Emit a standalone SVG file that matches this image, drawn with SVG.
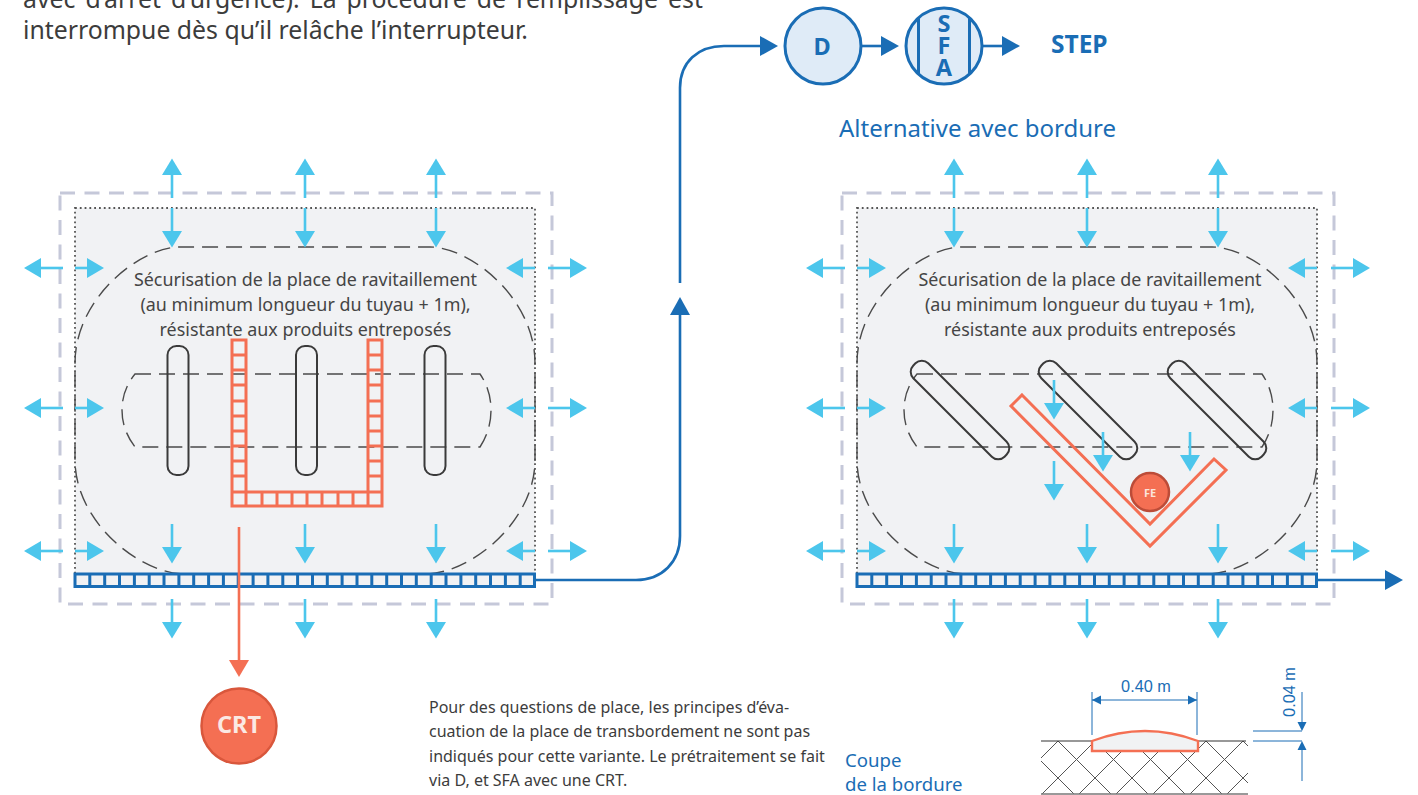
<svg xmlns="http://www.w3.org/2000/svg" xmlns:xlink="http://www.w3.org/1999/xlink" width="1418" height="795" viewBox="0 0 1418 795">
<style>
text{font-family:"Noto Sans","Open Sans",sans-serif}
.body{font-size:24.800px;fill:#3c3c3c}
.lab{font-size:17.900px;fill:#454545;text-anchor:middle}
.note{font-size:16px;fill:#3c3c3c}
.blue{fill:#1a6db5}
.title{font-size:24px}
.coupe{font-size:18.600px}
.dim{font-family:"Liberation Sans",Arial,sans-serif;font-size:16.300px;fill:#1a6db5}
.outer{fill:none;stroke:#c5c8d9;stroke-width:3;stroke-dasharray:15 9.5}
.pad{fill:#f1f2f4;stroke:#555;stroke-width:1.800;stroke-dasharray:1.800 3}
.dash{fill:none;stroke:#4a4a4a;stroke-width:1.400;stroke-dasharray:16 8}
.pill{fill:none;stroke:#3a3a3a;stroke-width:2}
.gutter{fill:none;stroke:#1a6db5;stroke-width:3}
.og{fill:none;stroke:#f46f53;stroke-width:3}
.sky{fill:none;stroke:#4cc6ec;stroke-width:2.600}
.skyh{fill:#4cc6ec}
.bl{fill:none;stroke:#1a6db5;stroke-width:2.600}
.blh{fill:#1a6db5}
.oh{fill:#f46f53}
.node{fill:#dfebf7;stroke:#1a6db5;stroke-width:3}
.cap{font-weight:700;fill:#1a6db5;text-anchor:middle;font-size:23.500px}
.thin{stroke:#1a6db5;stroke-width:1;fill:none}
</style>
<defs>
<pattern id="hatch" patternUnits="userSpaceOnUse" x="1058" y="778" width="37" height="37"><path d="M0 0L37 37M0 37L37 0" stroke="#555" stroke-width="1" fill="none"/></pattern>
<g id="sd"><path class="sky" d="M0 0V23"/><path class="skyh" d="M-10 23H10L0 39.500Z"/></g>
<g id="su"><path class="sky" d="M0 0V-23"/><path class="skyh" d="M-10 -23H10L0 -39.500Z"/></g>
<g id="sr"><path class="sky" d="M0 0H13"/><path class="skyh" d="M12 -10V10L29 0Z"/></g>
<g id="sl"><path class="sky" d="M0 0H-13"/><path class="skyh" d="M-12 -10V10L-29 0Z"/></g>
<g id="srl"><path class="sky" d="M0 0H22"/><path class="skyh" d="M22 -10V10L39 0Z"/></g>
<g id="sll"><path class="sky" d="M0 0H-22"/><path class="skyh" d="M-22 -10V10L-39 0Z"/></g>
<g id="frame">
<rect class="outer" x="60" y="193" width="492" height="411"/>
<rect class="pad" x="75" y="208" width="460" height="366"/>
<path class="dash" d="M75 363C75 298 140 247 180 247H430C470 247 535 298 535 363V460C535 522 470 574 425 574H185C140 574 75 522 75 460Z"/>
<path class="dash" d="M135 374H480Q491 390 491 410Q491 430 480 447H135Q122 430 122 410Q122 390 135 374Z"/>
<rect x="75" y="574" width="459.500" height="13" fill="#f1f2f4"/>
<path class="gutter" d="M75 574H534.500V586.500H75ZM89.800 574V586.500M104.700 574V586.500M119.500 574V586.500M134.400 574V586.500M149.200 574V586.500M164 574V586.500M178.900 574V586.500M193.700 574V586.500M208.600 574V586.500M223.400 574V586.500M238.200 574V586.500M253.100 574V586.500M267.900 574V586.500M282.800 574V586.500M297.600 574V586.500M312.500 574V586.500M327.300 574V586.500M342.100 574V586.500M357 574V586.500M371.800 574V586.500M386.700 574V586.500M401.500 574V586.500M416.300 574V586.500M431.200 574V586.500M446 574V586.500M460.900 574V586.500M475.700 574V586.500M490.500 574V586.500M505.400 574V586.500M520.200 574V586.500"/>
<use xlink:href="#sll" x="63" y="268"/><use xlink:href="#sr" x="75" y="268"/><use xlink:href="#sl" x="535" y="268"/>
<use xlink:href="#sll" x="63" y="408"/><use xlink:href="#sr" x="75" y="408"/><use xlink:href="#sl" x="535" y="408"/>
<use xlink:href="#sll" x="63" y="551"/><use xlink:href="#sr" x="75" y="551"/><use xlink:href="#sl" x="535" y="551"/>
</g>
<g id="vert3">
<use xlink:href="#su" x="0" y="198"/><use xlink:href="#sd" x="0" y="208"/>
<use xlink:href="#sd" x="0" y="524"/><use xlink:href="#sd" x="0" y="599"/>
</g>
</defs>

<g id="intro-text">
<text class="body" x="23" y="8" word-spacing="3.600">avec d’arrêt d’urgence). La procédure de remplissage est</text>
<text class="body" x="23" y="38.500">interrompue dès qu’il relâche l’interrupteur.</text>
</g>

<g id="panel-left">
<use xlink:href="#frame"/>
<text class="lab"><tspan x="305.500" y="286">Sécurisation de la place de ravitaillement</tspan><tspan x="305.500" y="311">(au minimum longueur du tuyau + 1m),</tspan><tspan x="305.500" y="336">résistante aux produits entreposés</tspan></text>
<use xlink:href="#srl" x="548" y="268"/><use xlink:href="#srl" x="548" y="408"/><use xlink:href="#srl" x="548" y="551"/>
<use xlink:href="#vert3" x="172"/><use xlink:href="#vert3" x="305"/><use xlink:href="#vert3" x="436"/>
<g id="pills-left">
<rect class="pill" x="167.500" y="346" width="21" height="129" rx="9"/>
<rect class="pill" x="296" y="346" width="21" height="129" rx="9"/>
<rect class="pill" x="424.500" y="346" width="21" height="129" rx="9"/>
</g>
<path id="u-channel" class="og" d="M232 340H246V492H368V340H382V506H232ZM232 355H246M232 370H246M232 385H246M232 401H246M232 416H246M232 431H246M232 446H246M232 461H246M232 476H246M232 492H246M368 355H382M368 370H382M368 385H382M368 401H382M368 416H382M368 431H382M368 446H382M368 461H382M368 476H382M368 492H382M246 492V506M262 492V506M277 492V506M292 492V506M307 492V506M322 492V506M338 492V506M353 492V506M368 492V506"/>
</g>

<g id="panel-right">
<use xlink:href="#frame" x="782"/>
<text class="lab"><tspan x="1090" y="286">Sécurisation de la place de ravitaillement</tspan><tspan x="1090" y="311">(au minimum longueur du tuyau + 1m),</tspan><tspan x="1090" y="336">résistante aux produits entreposés</tspan></text>
<use xlink:href="#srl" x="1331" y="268"/><use xlink:href="#srl" x="1331" y="408"/><use xlink:href="#srl" x="1331" y="551"/>
<use xlink:href="#vert3" x="954"/><use xlink:href="#vert3" x="1087"/><use xlink:href="#vert3" x="1218"/>
<g id="pills-right">
<rect class="pill" x="895.500" y="399.500" width="129" height="21" rx="9" transform="rotate(45 960 410)"/>
<rect class="pill" x="1023.500" y="399.500" width="129" height="21" rx="9" transform="rotate(45 1088 410)"/>
<rect class="pill" x="1152.500" y="399.500" width="129" height="21" rx="9" transform="rotate(45 1217 410)"/>
</g>
<use xlink:href="#sd" x="1054" y="380"/><use xlink:href="#sd" x="1054" y="461"/><use xlink:href="#sd" x="1103" y="432"/><use xlink:href="#sd" x="1190" y="432"/>
<path id="v-channel" class="og" stroke-width="2.500" d="M1022 395L1150 524L1214 459L1226 470L1150 546L1011 406Z"/>
<g id="node-fe"><circle cx="1150" cy="492" r="19" fill="#f46f53" stroke="#bc4c38" stroke-width="2.500"/><text x="1150" y="496.500" fill="#fbe3dc" font-size="11" font-weight="700" text-anchor="middle">FE</text></g>
</g>

<g id="connectors">
<path class="bl" d="M535 580H636C662 580 680 562 680 536V315"/>
<path class="blh" d="M670 315H690L680 297Z"/>
<path class="bl" d="M680 283V88C680 62 698 46 724 46H762"/>
<path class="blh" d="M760 36V56L778 46Z"/>
<path class="bl" d="M861 46H883"/><path class="blh" d="M881 36V56L899 46Z"/>
<path class="bl" d="M982 46H1003"/><path class="blh" d="M1002 36V56L1020 46Z"/>
<path class="bl" d="M1317 580H1387"/><path class="blh" d="M1385 570V590L1403 580Z"/>
<path fill="none" stroke="#f46f53" stroke-width="2.600" d="M239 527V662"/><path class="oh" d="M229 660H249L239 677Z"/>
</g>

<g id="node-d"><circle class="node" cx="823" cy="46" r="38"/><text class="cap" x="822" y="55">D</text></g>
<g id="node-sfa"><circle class="node" cx="944" cy="46" r="38"/><path fill="none" stroke="#1a6db5" stroke-width="3" d="M918.500 18V74M969.500 18V74"/>
<text class="cap" x="944" y="32">S</text><text class="cap" x="944" y="54">F</text><text class="cap" x="944" y="76">A</text></g>
<text id="label-step" x="1051" y="53" font-size="24.500" font-weight="700" class="blue">STEP</text>
<g id="node-crt"><circle cx="239" cy="726" r="37.500" fill="#f46f53" stroke="#d9573c" stroke-width="2.500"/><text x="239" y="733" fill="#fbe9e4" font-size="23.500" font-weight="700" text-anchor="middle">CRT</text></g>
<text id="title-alt" class="title blue" x="839" y="137">Alternative avec bordure</text>

<g id="note">
<text class="note"><tspan x="429" y="712.500">Pour des questions de place, les principes d’éva-</tspan><tspan x="429" y="737">cuation de la place de transbordement ne sont pas</tspan><tspan x="429" y="762">indiqués pour cette variante. Le prétraitement se fait</tspan><tspan x="429" y="786">via D, et SFA avec une CRT.</tspan></text>
</g>

<g id="section">
<text class="coupe blue"><tspan x="845" y="767">Coupe</tspan><tspan x="845" y="791">de la bordure</tspan></text>
<rect x="1041" y="741" width="207" height="53" fill="url(#hatch)"/>
<path d="M1041 741H1246" stroke="#333" stroke-width="1.200" fill="none"/>
<path d="M1041 794H1248" stroke="#777" stroke-width="1.400" fill="none"/>
<path d="M1092 741Q1145 721 1198 741V751H1092Z" fill="#f1f2f4" stroke="#f46f53" stroke-width="2.400"/>
<path class="thin" d="M1092 692V735M1197 692V735M1092 700H1197M1253 731H1302M1253 741H1302M1302 692V722M1302 750V781"/>
<path class="blh" d="M1092 700L1101 695.500V704.500ZM1197 700L1188 695.500V704.500ZM1302 731L1297.500 722H1306.500ZM1302 741L1297.500 750H1306.500Z"/>
<text class="dim" x="1146" y="692" text-anchor="middle">0.40 m</text>
<text class="dim" transform="translate(1295 692) rotate(-90)" text-anchor="middle">0.04 m</text>
</g>
</svg>
